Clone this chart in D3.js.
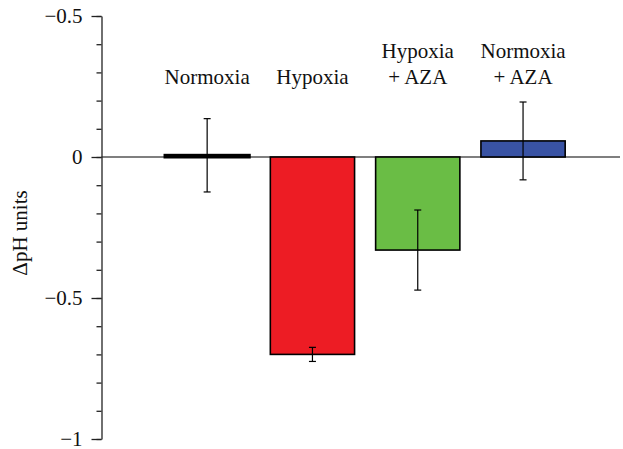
<!DOCTYPE html>
<html><head><meta charset="utf-8">
<script src="https://cdn.jsdelivr.net/npm/d3@7"></script>
<style>body{margin:0;background:#fff}svg{display:block}
text{font-family:"Liberation Serif","DejaVu Serif",serif !important}</style>
</head><body>
<svg id="c" width="623" height="449"></svg>
<script>
const categories = ["Normoxia", "Hypoxia", "Hypoxia\n+ AZA", "Normoxia\n+ AZA"];
const values = [0.006, -0.70, -0.33, 0.057];
const errors = [0.13, 0.025, 0.142, 0.138];
const colors = ["#000000", "#ED1C24", "#6ABD45", "#3953A4"];
const majorTicks = [0.5, 0, -0.5, -1];
const majorTickLabels = ["\u22120.5", "0", "\u22120.5", "\u22121"];
const minorTicks = d3.range(-10, 6).map(i => i / 10);
const yTitle = "\u0394pH units";

const svg = d3.select("#c");
const y = d3.scaleLinear().domain([-1, 0.5]).range([439, 16]);
const x = d3.scaleBand().domain(categories).range([154.5, 575.7]).paddingInner(0.2).paddingOuter(0.1);
const axisX = 101.5;

// zero line
svg.append("line").attr("x1", axisX).attr("x2", 620).attr("y1", y(0)).attr("y2", y(0))
  .attr("stroke", "#000").attr("stroke-width", 1.2);

// minor ticks
const gMinor = svg.append("g").attr("transform", `translate(${axisX},0)`)
  .call(d3.axisLeft(y).tickValues(minorTicks).tickSize(5).tickFormat(""));
gMinor.select(".domain").remove();
gMinor.selectAll("line").attr("stroke", "#222").attr("stroke-width", 1.3);

// major axis
const gY = svg.append("g").attr("transform", `translate(${axisX},0)`)
  .call(d3.axisLeft(y).tickValues(majorTicks).tickSize(10).tickSizeOuter(0).tickPadding(9)
    .tickFormat((d, i) => majorTickLabels[i]));
gY.select(".domain").attr("stroke", "#222").attr("stroke-width", 1.3);
gY.selectAll("line").attr("stroke", "#222").attr("stroke-width", 1.3);
gY.selectAll("text").attr("font-size", 21).attr("fill", "#111");

// y title
svg.append("text").attr("transform", `translate(27,${233}) rotate(-90)`)
  .attr("text-anchor", "middle").attr("font-size", 21).attr("fill", "#111")
  .text(yTitle);

// bars
svg.selectAll("rect.bar").data(values).join("rect").attr("class", "bar")
  .attr("x", (d, i) => x(categories[i]))
  .attr("width", x.bandwidth())
  .attr("y", d => y(Math.max(0, d)))
  .attr("height", d => Math.abs(y(d) - y(0)))
  .attr("fill", (d, i) => colors[i])
  .attr("stroke", "#000")
  .attr("stroke-width", (d, i) => i === 0 ? 3 : 1.6);

// error bars
const cap = 3.5;
const eg = svg.selectAll("g.err").data(values).join("g").attr("class", "err");
eg.append("line")
  .attr("x1", (d, i) => x(categories[i]) + x.bandwidth() / 2)
  .attr("x2", (d, i) => x(categories[i]) + x.bandwidth() / 2)
  .attr("y1", (d, i) => y(d + errors[i])).attr("y2", (d, i) => y(d - errors[i]))
  .attr("stroke", "#000").attr("stroke-width", 1.2);
[1, -1].forEach(s => {
  eg.append("line")
    .attr("x1", (d, i) => x(categories[i]) + x.bandwidth() / 2 - cap)
    .attr("x2", (d, i) => x(categories[i]) + x.bandwidth() / 2 + cap)
    .attr("y1", (d, i) => y(d + s * errors[i])).attr("y2", (d, i) => y(d + s * errors[i]))
    .attr("stroke", "#000").attr("stroke-width", 1.2);
});

// category labels
categories.forEach((c, i) => {
  const lines = c.split("\n");
  const t = svg.append("text").attr("text-anchor", "middle")
    .attr("font-size", 21).attr("fill", "#111");
  lines.forEach((l, j) => {
    t.append("tspan").attr("x", x(c) + x.bandwidth() / 2)
      .attr("y", 84 - (lines.length - 1 - j) * 26).text(l);
  });
});
</script>
</body></html>
